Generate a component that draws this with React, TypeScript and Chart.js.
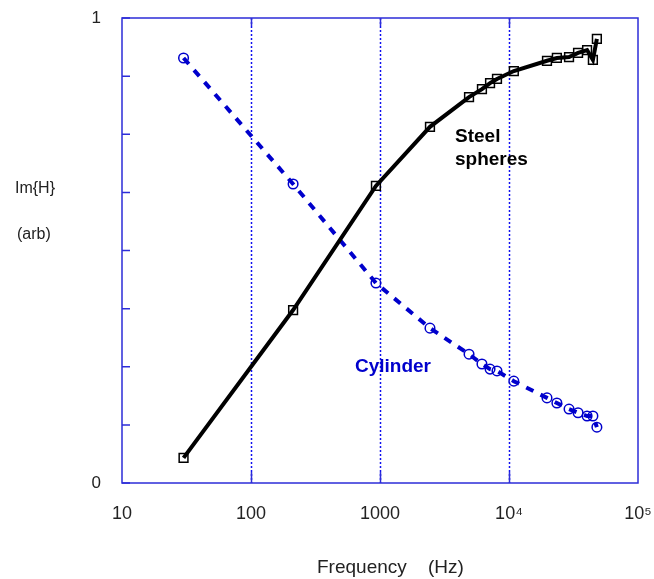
import React, { useEffect, useRef } from "react";
import { Chart, registerables } from "chart.js";

Chart.register(...registerables);

// Frequencies (Hz) of the measured points
const steelFreq = [30, 212, 930, 2440, 4900, 6170, 7130, 8070, 10900, 19700, 23500, 29200, 34300, 40300, 44700, 48000];
const steelValues = [0.054, 0.372, 0.639, 0.766, 0.83, 0.847, 0.86, 0.869, 0.886, 0.908, 0.914, 0.916, 0.925, 0.931, 0.91, 0.955];

const cylFreq = [30, 212, 930, 2440, 4900, 6170, 7130, 8070, 10900, 19700, 23500, 29200, 34300, 40300, 44700, 48000];
const cylValues = [0.914, 0.643, 0.43, 0.333, 0.277, 0.256, 0.245, 0.241, 0.219, 0.183, 0.172, 0.159, 0.151, 0.144, 0.144, 0.12];

const xTickValues = [10, 100, 1000, 10000, 100000];
const xTickLabels = ["10", "100", "1000", "10\u2074", "10\u2075"];
const yTickValues = [0, 0.125, 0.25, 0.375, 0.5, 0.625, 0.75, 0.875, 1];
const yTickLabels = ["0", "", "", "", "", "", "", "", "1"];

const FRAME = "#2d2dd8";
const BLUE = "#0000cc";
const FONT = "'Liberation Sans', Arial, sans-serif";

const decorPlugin = {
  id: "decor",
  beforeDatasetsDraw(chart: any) {
    const { ctx, chartArea } = chart;
    const xs = chart.scales.x;
    const ys = chart.scales.y;
    ctx.save();
    // dotted vertical grid at inner decades
    ctx.strokeStyle = "#1010f0";
    ctx.lineWidth = 1.5;
    ctx.setLineDash([2, 2]);
    ctx.beginPath();
    xTickValues.slice(1, -1).forEach((v) => {
      const x = Math.round(xs.getPixelForValue(v)) + 0.5;
      ctx.moveTo(x, chartArea.top);
      ctx.lineTo(x, chartArea.bottom);
    });
    ctx.stroke();
    ctx.setLineDash([]);
    ctx.strokeStyle = FRAME;
    ctx.lineWidth = 1.5;
    ctx.strokeRect(chartArea.left, chartArea.top, chartArea.right - chartArea.left, chartArea.bottom - chartArea.top);
    ctx.beginPath();
    yTickValues.forEach((v) => {
      const y = ys.getPixelForValue(v);
      ctx.moveTo(chartArea.left, y);
      ctx.lineTo(chartArea.left + 8, y);
    });
    xTickValues.slice(1, -1).forEach((v) => {
      const x = Math.round(xs.getPixelForValue(v)) + 0.5;
      ctx.moveTo(x, chartArea.bottom);
      ctx.lineTo(x, chartArea.bottom - 11);
      ctx.moveTo(x, chartArea.top);
      ctx.lineTo(x, chartArea.top + 8);
    });
    ctx.stroke();
    ctx.restore();
  },
  afterDraw(chart: any) {
    const { ctx } = chart;
    ctx.save();
    ctx.textAlign = "left";
    ctx.textBaseline = "alphabetic";
    ctx.fillStyle = "#222";
    ctx.font = `16px ${FONT}`;
    ctx.fillText("Im{H}", 15, 193);
    ctx.fillText("(arb)", 17, 239);
    ctx.font = `19px ${FONT}`;
    ctx.fillText("Frequency    (Hz)", 317, 573);
    ctx.font = `bold 19px ${FONT}`;
    ctx.fillStyle = "#000";
    ctx.fillText("Steel", 455, 142);
    ctx.fillText("spheres", 455, 165);
    ctx.fillStyle = BLUE;
    ctx.fillText("Cylinder", 355, 372);
    ctx.restore();
  },
};

export default function App() {
  const ref = useRef<HTMLCanvasElement>(null);
  useEffect(() => {
    if (!ref.current) return;
    const chart = new Chart(ref.current, {
      type: "scatter",
      data: {
        datasets: [
          {
            label: "Steel spheres",
            data: steelFreq.map((f, i) => ({ x: f, y: steelValues[i] })),
            showLine: true,
            borderColor: "#000",
            borderWidth: 4,
            pointStyle: "rect",
            pointRadius: 6.2,
            pointBorderWidth: 1.5,
            pointBorderColor: "#000",
            pointBackgroundColor: "rgba(0,0,0,0)",
          },
          {
            label: "Cylinder",
            data: cylFreq.map((f, i) => ({ x: f, y: cylValues[i] })),
            showLine: true,
            borderColor: BLUE,
            borderWidth: 4,
            borderDash: [8, 8],
            pointStyle: "circle",
            pointRadius: 4.8,
            pointBorderWidth: 1.5,
            pointBorderColor: BLUE,
            pointBackgroundColor: "rgba(0,0,0,0)",
          },
        ],
      },
      options: {
        responsive: false,
        animation: false,
        layout: { padding: { top: 18, right: 16, left: 0, bottom: 0 } },
        plugins: { legend: { display: false }, tooltip: { enabled: false } },
        scales: {
          x: {
            type: "logarithmic",
            min: 10,
            max: 100000,
            afterBuildTicks: (scale: any) => {
              scale.ticks = xTickValues.map((v) => ({ value: v }));
            },
            afterFit: (scale: any) => {
              scale.height = 96;
              scale.paddingLeft = 0;
              scale.paddingRight = 0;
              scale.paddingTop = 0;
              scale.paddingBottom = 0;
            },
            ticks: {
              autoSkip: false,
              maxRotation: 0,
              padding: 20,
              color: "#222",
              font: { family: FONT, size: 18 },
              callback: (v: any) => {
                const i = xTickValues.indexOf(Number(v));
                return i >= 0 ? xTickLabels[i] : "";
              },
            },
            grid: { display: false, drawTicks: false },
            border: { display: false },
          },
          y: {
            min: 0,
            max: 1,
            afterBuildTicks: (scale: any) => {
              scale.ticks = yTickValues.map((v) => ({ value: v }));
            },
            afterFit: (scale: any) => {
              scale.width = 122;
              scale.paddingLeft = 0;
              scale.paddingRight = 0;
              scale.paddingTop = 0;
              scale.paddingBottom = 0;
            },
            ticks: {
              autoSkip: false,
              padding: 21,
              color: "#222",
              font: { family: FONT, size: 17 },
              callback: (v: any) => {
                const i = yTickValues.indexOf(Number(v));
                return i >= 0 ? yTickLabels[i] : "";
              },
            },
            grid: { display: false, drawTicks: false, drawOnChartArea: false },
            border: { display: false },
          },
        },
      },
      plugins: [decorPlugin],
    } as any);
    return () => chart.destroy();
  }, []);
  return (
    <div style={{ position: "absolute", left: 0, top: 0, width: 654, height: 579, background: "#fff" }}>
      <canvas ref={ref} width={654} height={579} style={{ width: 654, height: 579, display: "block" }} />
    </div>
  );
}
